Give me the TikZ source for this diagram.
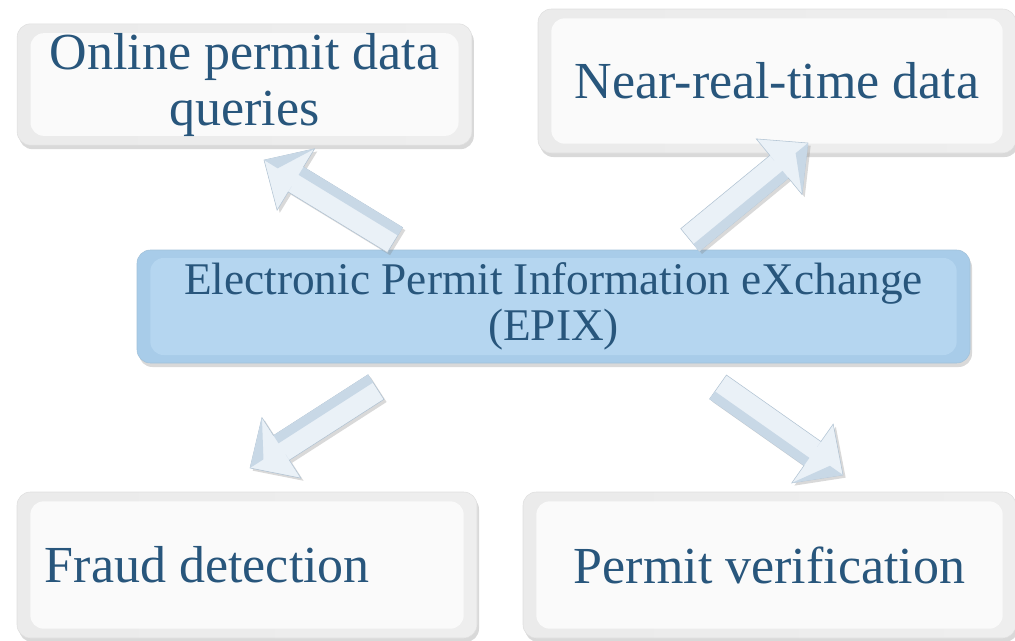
\documentclass[tikz,border=0pt]{standalone}
\usepackage{fontspec}
\setmainfont{Liberation Serif}
\usetikzlibrary{calc,shadows}
\definecolor{textblue}{RGB}{40,86,124}
\definecolor{boxface}{RGB}{250,250,250}
\definecolor{boxedge}{RGB}{238,238,238}
\definecolor{epixface}{RGB}{181,214,240}
\definecolor{epixedge}{RGB}{168,204,233}
\definecolor{arrowface}{RGB}{234,241,247}
\definecolor{arrowside}{RGB}{200,216,230}
\definecolor{arrowline}{RGB}{176,194,210}
\begin{document}
\begin{tikzpicture}[x=0.75pt,y=-0.75pt,line join=miter,
		font=\fontsize{39}{42}\selectfont]
			\tikzset{bevelbox/.style={rounded corners=10pt,inner sep=0pt,text=textblue,align=center,
					draw=gray!25,line width=0.4pt,
					drop shadow={opacity=0.3,shadow xshift=1.5pt,shadow yshift=-3pt}},
				outerbox/.style={bevelbox,left color=gray!16,right color=boxedge,
					path picture={\fill[boxface] ([shift={(10pt,-7pt)}]path picture bounding box.north west)
						rectangle ([shift={(-10pt,7pt)}]path picture bounding box.south east);}},
				epixbox/.style={bevelbox,fill=epixedge,draw=epixedge!85!gray,
					font=\fontsize{34}{35}\selectfont,
					path picture={\fill[epixface] ([shift={(10pt,-6pt)}]path picture bounding box.north west)
						rectangle ([shift={(-10pt,6pt)}]path picture bounding box.south east);}},
				arrowbody/.style={fill=arrowface,draw=arrowline,line width=0.4pt,
					drop shadow={opacity=0.3,shadow xshift=2pt,shadow yshift=-2pt}},
				arrowfacet/.style={fill=arrowside}}
			\useasboundingbox (0,0) rectangle (1015,640);
			% boxes
			\node[outerbox,minimum width=341pt,minimum height=91pt] (ol) at (244.5,84.5) {Online permit data\\queries};
			\node[outerbox,minimum width=358.5pt,minimum height=108pt] (nrt) at (777,81) {Near-real-time data};
			\node[epixbox,minimum width=624.75pt,minimum height=84.75pt] (epix) at (553.5,306.5) {Electronic Permit Information eXchange\\(EPIX)};
			\node[outerbox,minimum width=345pt,minimum height=109.5pt,text width=303pt,align=flush left] (fd) at (247,565) {Fraud detection};
			\node[outerbox,minimum width=369.75pt,minimum height=109.5pt] (pv) at (769.5,565) {Permit verification};
			% arrow ends
			\coordinate (ol-s) at (395,240);  \coordinate (ol-t) at (264,160);
			\coordinate (nrt-s) at (690,240); \coordinate (nrt-t) at (808,143);
			\coordinate (fd-s) at (376,387);  \coordinate (fd-t) at (250,468);
			\coordinate (pv-s) at (718,387);  \coordinate (pv-t) at (843,475);
			\def\blockarrow#1#2{
				\path ($(#2)!28pt!(#1)$) coordinate (hb);
				\fill[arrowbody] ($(#1)!11pt!90:(#2)$) -- ($(hb)!11pt!90:(#2)$) -- ($(hb)!27pt!90:(#2)$) -- (#2)
					-- ($(hb)!27pt!-90:(#2)$) -- ($(hb)!11pt!-90:(#2)$) -- ($(#1)!11pt!-90:(#2)$) -- cycle;
				\fill[arrowfacet] ($(#1)!11pt!-90:(#2)$) -- ($(hb)!11pt!-90:(#2)$) -- ($(hb)!4pt!-90:(#2)$) -- ($(#1)!4pt!-90:(#2)$) -- cycle;
				\fill[arrowfacet] ($(hb)!27pt!-90:(#2)$) -- (#2) -- ($(#2)!12pt!(#1)$) -- cycle;
				\fill[arrowfacet] ($(hb)!27pt!90:(#2)$) -- ($(hb)!11pt!90:(#2)$) -- ($(hb)!6pt!90:(#2)$) -- cycle;}
			\blockarrow{ol-s}{ol-t}
			\blockarrow{nrt-s}{nrt-t}
			\blockarrow{fd-s}{fd-t}
			\blockarrow{pv-s}{pv-t}
		\end{tikzpicture}
\end{document}
